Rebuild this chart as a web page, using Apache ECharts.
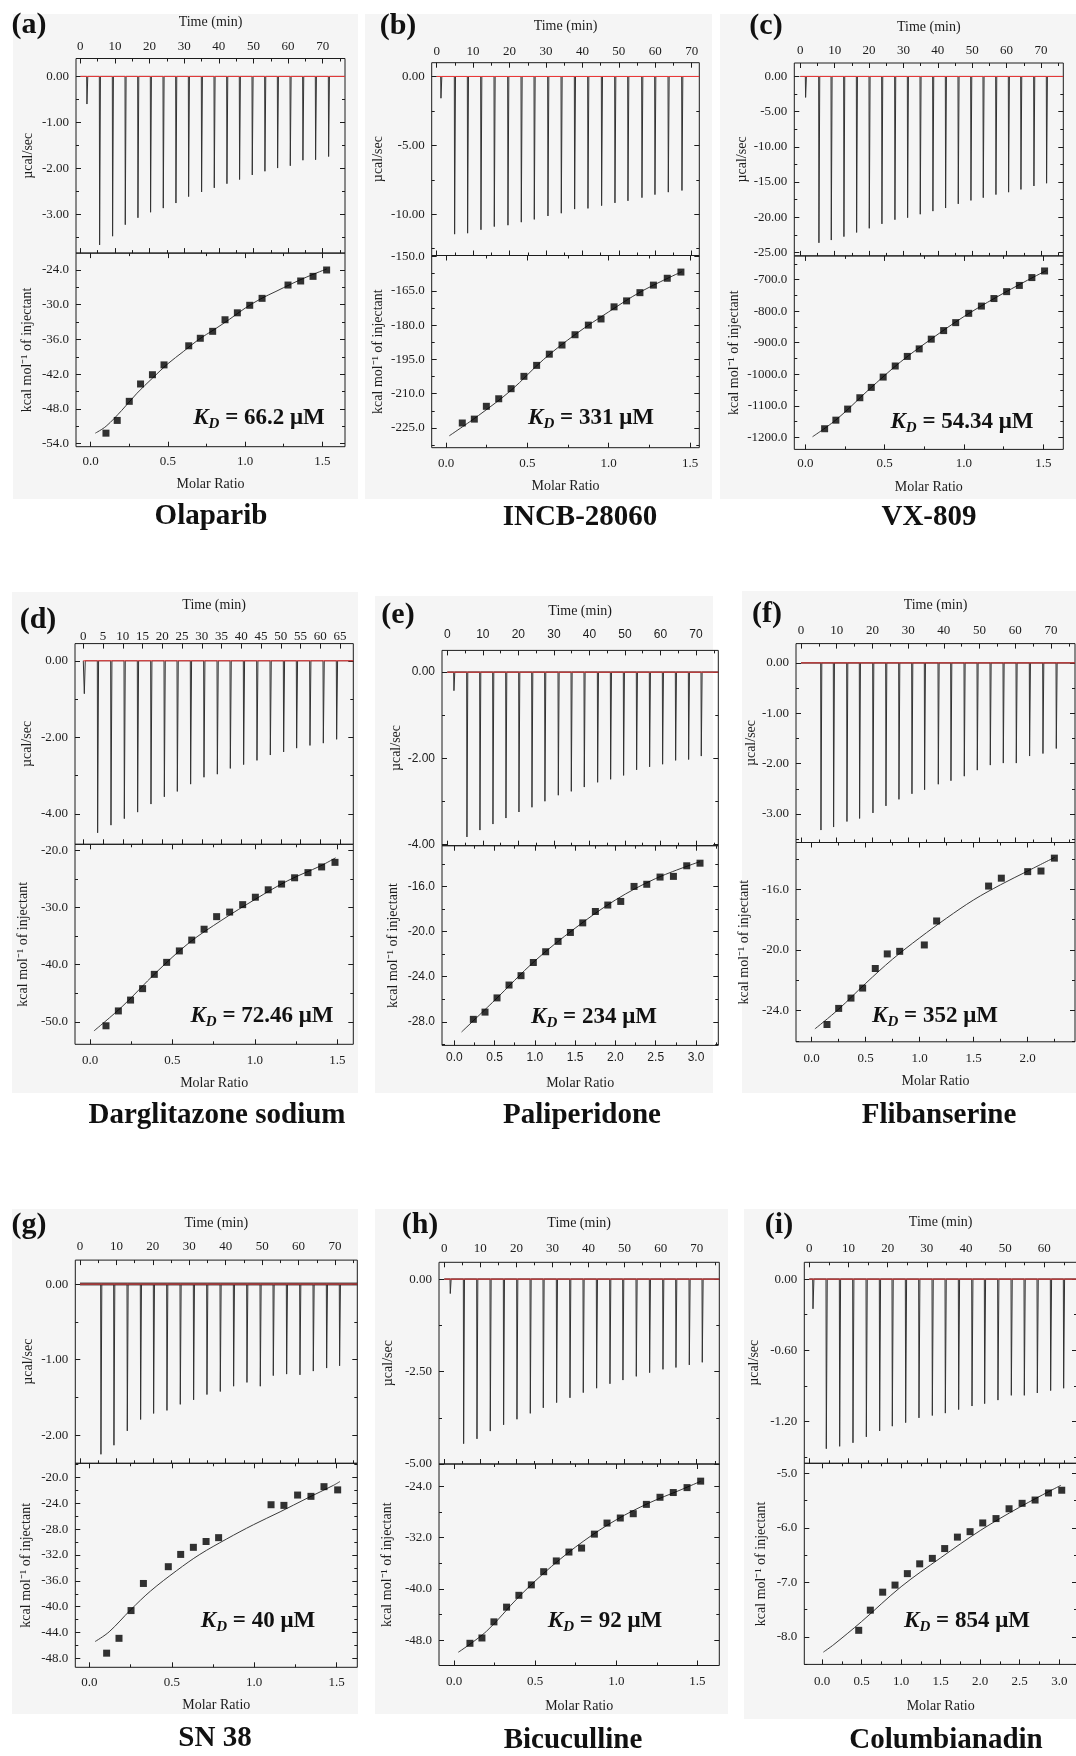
<!DOCTYPE html>
<html><head><meta charset="utf-8">
<script src="https://cdn.jsdelivr.net/npm/echarts@6/dist/echarts.min.js"></script>
<style>html,body{margin:0;padding:0;background:#fff}#c{width:1076px;height:1756px}</style>
</head><body><div id="c"></div>
<script>
// ================= DATA =================
const panelLetters = ['(a)','(b)','(c)','(d)','(e)','(f)','(g)','(h)','(i)'];
const compoundNames = ['Olaparib','INCB-28060','VX-809','Darglitazone sodium','Paliperidone','Flibanserine','SN 38','Bicuculline','Columbianadin'];
const kdValues = ['66.2 μM','331 μM','54.34 μM','72.46 μM','234 μM','352 μM','40 μM','92 μM','854 μM'];

// tick label values
const timeTicks70 = [0,10,20,30,40,50,60,70];
const timeTicks65 = [0,5,10,15,20,25,30,35,40,45,50,55,60,65];
const timeTicks60 = [0,10,20,30,40,50,60];
const ratioTicks15 = [0,0.5,1.0,1.5];
const ratioTicks20 = [0,0.5,1.0,1.5,2.0];
const ratioTicks30 = [0,0.5,1.0,1.5,2.0,2.5,3.0];
const heatTicksA = [0,-1,-2,-3];
const heatTicksB = [0,-5,-10];
const heatTicksC = [0,-5,-10,-15,-20,-25];
const heatTicksD = [0,-2,-4];
const heatTicksE = [0,-2,-4];
const heatTicksF = [0,-1,-2,-3];
const heatTicksG = [0,-1,-2];
const heatTicksH = [0,-2.5,-5];
const heatTicksI = [0,-0.6,-1.2];
const enthTicksA = [-24,-30,-36,-42,-48,-54];
const enthTicksB = [-150,-165,-180,-195,-210,-225];
const enthTicksC = [-700,-800,-900,-1000,-1100,-1200];
const enthTicksD = [-20,-30,-40,-50];
const enthTicksE = [-16,-20,-24,-28];
const enthTicksF = [-16,-20,-24];
const enthTicksG = [-20,-24,-28,-32,-36,-40,-44,-48];
const enthTicksH = [-24,-32,-40,-48];
const enthTicksI = [-5,-6,-7,-8];

// (a) Olaparib
const timeA = [1.84,5.50,9.25,12.91,16.57,20.22,23.88,27.54,31.20,34.95,38.61,42.27,45.92,49.58,53.24,56.90,60.56,64.21,67.87,71.63];
const heatA = [-0.6,-3.66,-3.47,-3.22,-3.07,-2.95,-2.86,-2.75,-2.61,-2.51,-2.42,-2.33,-2.24,-2.14,-2.06,-1.99,-1.94,-1.82,-1.81,-1.74];
const ratioA = [0.099,0.172,0.25,0.323,0.40,0.475,0.635,0.71,0.79,0.87,0.95,1.03,1.11,1.278,1.36,1.44,1.528];
const enthA = [-52.2,-50.0,-46.7,-43.7,-42.1,-40.4,-37.1,-35.8,-34.6,-32.6,-31.4,-30.1,-28.9,-26.6,-25.9,-25.1,-24.0];
const fitRatioA = [0.03,0.1,0.2,0.3,0.4,0.5,0.6,0.7,0.8,0.9,1.0,1.1,1.2,1.3,1.4,1.53];
const fitEnthA = [-52.2,-51.0,-48.3,-45.3,-42.7,-40.2,-38.1,-36.0,-34.3,-32.5,-30.6,-29.0,-27.7,-26.4,-25.2,-23.8];

// (b) INCB-28060
const timeB = [1.09,4.84,8.41,12.07,15.73,19.48,23.14,26.71,30.46,34.12,37.78,41.44,45.19,48.85,52.42,56.26,59.83,63.49,67.24];
const heatB = [-1.58,-11.45,-11.38,-11.13,-10.9,-10.8,-10.58,-10.38,-10.13,-9.93,-9.63,-9.58,-9.38,-9.18,-9.03,-8.8,-8.58,-8.4,-8.28];
const ratioB = [0.10,0.174,0.248,0.324,0.40,0.479,0.557,0.635,0.713,0.793,0.875,0.953,1.033,1.11,1.192,1.275,1.36,1.444];
const enthB = [-222.8,-221.1,-215.5,-212.2,-207.8,-202.4,-197.6,-192.7,-188.7,-184.2,-180.0,-177.3,-172.0,-169.4,-165.8,-162.5,-159.5,-156.8];
const fitRatioB = [0.02,0.2,0.4,0.6,0.8,1.0,1.2,1.45];
const fitEnthB = [-228.4,-219.5,-208.5,-195.0,-183.8,-174.2,-165.3,-156.6];

// (c) VX-809
const timeC = [1.46,5.34,8.93,12.61,16.30,19.98,23.66,27.44,31.13,34.81,38.49,42.18,45.86,49.55,53.13,56.82,60.50,64.09,67.87,71.55];
const heatC = [-2.98,-23.63,-23.24,-22.75,-22.16,-21.57,-20.94,-20.35,-20.06,-19.57,-19.13,-18.69,-18.10,-17.61,-17.22,-16.78,-16.44,-16.05,-15.56,-15.17];
const ratioC = [0.122,0.193,0.267,0.344,0.416,0.491,0.567,0.643,0.718,0.794,0.872,0.948,1.03,1.11,1.189,1.269,1.349,1.428,1.508];
const enthC = [-1172.7,-1145.5,-1110.4,-1074.4,-1041.6,-1008.9,-973.8,-943.4,-919.5,-888.7,-861.5,-836.3,-806.8,-783.8,-759.9,-738.0,-718.3,-693.4,-672.5];
const fitRatioC = [0.046,0.2,0.4,0.6,0.8,1.0,1.2,1.4,1.52];
const fitEnthC = [-1198,-1142,-1049,-961,-886,-817,-757,-702,-671];

// (d) Darglitazone sodium
const timeD = [0.18,3.55,6.93,10.31,13.68,17.06,20.44,23.73,27.10,30.48,33.86,37.15,40.52,43.90,47.28,50.65,53.94,57.32,60.70,64.07];
const heatD = [-0.86,-4.49,-4.29,-4.12,-3.95,-3.74,-3.55,-3.41,-3.22,-3.04,-2.96,-2.81,-2.71,-2.60,-2.46,-2.38,-2.28,-2.21,-2.15,-2.05];
const ratioD = [0.097,0.172,0.246,0.319,0.39,0.465,0.542,0.617,0.692,0.768,0.847,0.926,1.003,1.081,1.162,1.241,1.322,1.405,1.486];
const enthD = [-50.7,-48.1,-46.2,-44.2,-41.7,-39.6,-37.6,-35.7,-33.8,-31.6,-30.8,-29.5,-28.2,-26.9,-25.9,-24.8,-23.9,-22.9,-22.1];
const fitRatioD = [0.024,0.2,0.4,0.6,0.8,1.0,1.2,1.4,1.49];
const fitEnthD = [-51.6,-47.2,-41.4,-36.2,-32.2,-28.6,-25.3,-22.7,-21.3];

// (e) Paliperidone
const timeE = [1.79,5.45,9.11,12.77,16.43,20.09,23.75,27.40,31.16,34.82,38.47,42.23,45.89,49.54,53.20,56.86,60.52,64.18,67.84,71.40];
const heatE = [-0.43,-3.83,-3.67,-3.53,-3.39,-3.25,-3.14,-3.00,-2.86,-2.77,-2.67,-2.56,-2.49,-2.40,-2.27,-2.20,-2.14,-2.05,-2.03,-1.95];
const ratioE = [0.236,0.381,0.53,0.679,0.828,0.981,1.134,1.288,1.441,1.594,1.751,1.905,2.066,2.231,2.389,2.554,2.72,2.885,3.05];
const enthE = [-27.78,-27.14,-25.88,-24.74,-23.91,-22.74,-21.79,-20.87,-20.08,-19.23,-18.22,-17.65,-17.33,-16.0,-15.81,-15.17,-15.11,-14.17,-13.94];
const fitRatioE = [0.09,0.5,1.0,1.5,2.0,2.5,3.05];
const fitEnthE = [-28.9,-26.1,-22.6,-19.7,-17.2,-15.3,-13.8];

// (f) Flibanserine
const timeF = [5.51,9.05,12.79,16.33,20.07,23.71,27.35,30.99,34.53,38.36,41.91,45.64,49.28,52.92,56.56,60.20,63.93,67.67,71.40];
const heatF = [-3.32,-3.26,-3.15,-3.09,-2.98,-2.84,-2.71,-2.60,-2.52,-2.41,-2.34,-2.25,-2.13,-2.03,-1.99,-1.99,-1.85,-1.80,-1.70];
const ratioF = [0.142,0.25,0.364,0.472,0.589,0.70,0.815,1.043,1.157,1.638,1.756,2.0,2.123,2.247];
const enthF = [-24.91,-23.85,-23.17,-22.51,-21.22,-20.26,-20.09,-19.67,-18.09,-15.79,-15.27,-14.84,-14.8,-13.95];
const fitRatioF = [0.03,0.25,0.5,0.75,1.0,1.25,1.5,1.75,2.0,2.25];
const fitEnthF = [-25.2,-23.9,-22.2,-20.6,-19.2,-17.9,-16.7,-15.7,-14.8,-13.9];

// (g) SN 38
const timeG = [5.67,9.24,12.90,16.56,20.13,23.79,27.45,31.11,34.77,38.43,42.09,45.75,49.41,52.98,56.64,60.30,63.96,67.62,71.18];
const heatG = [-2.25,-2.13,-1.94,-1.79,-1.71,-1.67,-1.59,-1.53,-1.46,-1.42,-1.35,-1.30,-1.35,-1.21,-1.19,-1.20,-1.15,-1.11,-1.08];
const ratioG = [0.105,0.18,0.253,0.328,0.479,0.554,0.631,0.708,0.784,1.102,1.18,1.263,1.344,1.423,1.506];
const enthG = [-47.2,-44.9,-40.6,-36.4,-33.8,-31.9,-30.8,-29.9,-29.3,-24.2,-24.3,-22.7,-22.9,-21.4,-21.9];
const fitRatioG = [0.035,0.12,0.25,0.37,0.53,0.67,0.833,0.995,1.157,1.32,1.48,1.52];
const fitEnthG = [-45.4,-43.9,-40.5,-37.6,-34.4,-31.9,-29.5,-27.3,-25.3,-23.2,-21.2,-20.6];

// (h) Bicuculline
const timeH = [1.58,5.28,8.98,12.67,16.37,20.07,23.77,27.37,31.07,34.77,38.46,42.16,45.86,49.46,53.16,56.86,60.56,64.16,67.86,71.46];
const heatH = [-0.39,-4.45,-4.32,-4.11,-3.94,-3.79,-3.63,-3.48,-3.34,-3.21,-3.07,-2.95,-2.83,-2.73,-2.63,-2.53,-2.44,-2.39,-2.32,-2.25];
const ratioH = [0.097,0.171,0.245,0.323,0.399,0.476,0.552,0.63,0.708,0.786,0.865,0.943,1.025,1.105,1.186,1.27,1.352,1.437,1.521];
const enthH = [-48.5,-47.67,-45.15,-42.85,-41.0,-39.37,-37.31,-35.63,-34.24,-33.62,-31.44,-29.71,-28.92,-28.25,-26.79,-25.68,-24.94,-24.17,-23.16];
const fitRatioH = [0.025,0.2,0.4,0.6,0.8,1.0,1.2,1.4,1.52];
const fitEnthH = [-49.9,-46.6,-41.2,-36.5,-32.5,-29.2,-26.6,-24.5,-23.2];

// (i) Columbianadin
const timeI = [0.86,4.26,7.67,11.07,14.48,17.88,21.11,24.52,27.92,31.33,34.65,38.05,41.46,44.69,48.09,51.50,54.82,58.14,61.54,64.86];
const heatI = [-0.25,-1.43,-1.41,-1.38,-1.33,-1.28,-1.24,-1.21,-1.17,-1.15,-1.13,-1.10,-1.07,-1.05,-1.02,-0.98,-0.98,-0.96,-0.94,-0.92];
const ratioI = [0.464,0.611,0.767,0.923,1.079,1.235,1.395,1.551,1.712,1.872,2.032,2.2,2.365,2.53,2.694,2.863,3.031];
const enthI = [-7.88,-7.51,-7.18,-7.05,-6.84,-6.66,-6.56,-6.38,-6.17,-6.07,-5.91,-5.83,-5.65,-5.55,-5.49,-5.36,-5.31];
const fitRatioI = [0.017,0.15,0.5,1.0,1.5,2.0,2.5,3.02];
const fitEnthI = [-8.28,-8.14,-7.72,-7.08,-6.55,-6.05,-5.62,-5.22];

// ================= ASSEMBLY =================
const PANELS = [
  {time:timeA, heat:heatA, ratio:ratioA, enth:enthA, fitX:fitRatioA, fitY:fitEnthA, tT:timeTicks70, hT:heatTicksA, eT:enthTicksA, rT:ratioTicks15},
  {time:timeB, heat:heatB, ratio:ratioB, enth:enthB, fitX:fitRatioB, fitY:fitEnthB, tT:timeTicks70, hT:heatTicksB, eT:enthTicksB, rT:ratioTicks15},
  {time:timeC, heat:heatC, ratio:ratioC, enth:enthC, fitX:fitRatioC, fitY:fitEnthC, tT:timeTicks70, hT:heatTicksC, eT:enthTicksC, rT:ratioTicks15},
  {time:timeD, heat:heatD, ratio:ratioD, enth:enthD, fitX:fitRatioD, fitY:fitEnthD, tT:timeTicks65, hT:heatTicksD, eT:enthTicksD, rT:ratioTicks15},
  {time:timeE, heat:heatE, ratio:ratioE, enth:enthE, fitX:fitRatioE, fitY:fitEnthE, tT:timeTicks70, hT:heatTicksE, eT:enthTicksE, rT:ratioTicks30},
  {time:timeF, heat:heatF, ratio:ratioF, enth:enthF, fitX:fitRatioF, fitY:fitEnthF, tT:timeTicks70, hT:heatTicksF, eT:enthTicksF, rT:ratioTicks20},
  {time:timeG, heat:heatG, ratio:ratioG, enth:enthG, fitX:fitRatioG, fitY:fitEnthG, tT:timeTicks70, hT:heatTicksG, eT:enthTicksG, rT:ratioTicks15},
  {time:timeH, heat:heatH, ratio:ratioH, enth:enthH, fitX:fitRatioH, fitY:fitEnthH, tT:timeTicks70, hT:heatTicksH, eT:enthTicksH, rT:ratioTicks15},
  {time:timeI, heat:heatI, ratio:ratioI, enth:enthI, fitX:fitRatioI, fitY:fitEnthI, tT:timeTicks60, hT:heatTicksI, eT:enthTicksI, rT:ratioTicks30}
];

// layout (positions / axis ranges / gaps)
const LAYOUT = [
  {l:76, r:345, t:58.5, m:253.1, b:446.7, tr:[-1.24,76.44], hr:[-3.837,0.389], rr:[-0.095,1.647], er:[-54.54,-21.08], tng:29, tlm:5.5, rng:31, rlm:8, hng:41, eng:42, bg:[13,14,358,499], let:[29,25], nm:[211,517], kd:[259,418], noise:1},
  {l:431.7, r:699.3, t:62.7, m:255.5, b:447.7, tr:[-1.37,72.08], hr:[-13.0,1.0], rr:[-0.088,1.557], er:[-233.6,-149.55], tng:29, tlm:5, rng:31.5, rlm:9, hng:46, eng:46, bg:[365,14,712,499], let:[398,26], nm:[580,518], kd:[591,418], noise:1},
  {l:794.3, r:1063.3, t:63, m:255.9, b:449.4, tr:[-1.745,76.49], hr:[-25.49,1.91], rr:[-0.069,1.626], er:[-1238.2,-624.7], tng:28.5, tlm:5.5, rng:31, rlm:7.5, hng:43, eng:53, bg:[720,14,1076,499], let:[766,26], nm:[929,518], kd:[962,422], noise:1},
  {l:75, r:353.3, t:643.6, m:844.3, b:1044.3, tr:[-2.10,68.37], hr:[-4.79,0.448], rr:[-0.091,1.597], er:[-53.94,-18.94], tng:31.5, tlm:1, rng:32, rlm:9.5, hng:41, eng:45, bg:[12,592,358,1093], let:[38,620], nm:[217,1116], kd:[262,1016], noise:1, noTimeMinor:true},
  {l:442, r:718.3, t:650.4, m:845.7, b:1045.4, tr:[-1.49,76.27], hr:[-4.033,0.506], rr:[-0.153,3.277], er:[-30.09,-12.39], tng:32, tlm:9.5, rng:30.5, rlm:6.5, hng:37, eng:42, bg:[375,596,713,1093], let:[398,615], nm:[582,1116], kd:[594,1017], noise:1.4, sans:true},
  {l:796, r:1075, t:643.6, m:842.5, b:1041.8, tr:[-1.4,76.72], hr:[-3.567,0.383], rr:[-0.145,2.438], er:[-26.05,-12.92], tng:31, tlm:7, rng:33, rlm:10, hng:35, eng:45, bg:[742,591,1076,1093], let:[767,614], nm:[939,1116], kd:[935,1016], noise:1.4},
  {l:75.3, r:357.3, t:1260.1, m:1463.3, b:1667.3, tr:[-1.29,76.12], hr:[-2.369,0.317], rr:[-0.085,1.625], er:[-49.39,-17.78], tng:30, tlm:6.7, rng:31.5, rlm:8.5, hng:40, eng:42, bg:[12,1209,358,1714], let:[29,1225], nm:[215,1739], kd:[258,1621], noise:3},
  {l:439, r:719.3, t:1262.3, m:1464, b:1665.5, tr:[-1.47,76.26], hr:[-5.0,0.455], rr:[-0.094,1.636], er:[-51.97,-20.48], tng:31.5, tlm:7, rng:34, rlm:10, hng:44, eng:45, bg:[375,1209,728,1714], let:[420,1225], nm:[573,1741], kd:[605,1621], noise:1.2},
  {l:804.3, r:1077, t:1262.3, m:1463.3, b:1664.4, tr:[-1.28,68.35], hr:[-1.553,0.142], rr:[-0.224,3.224], er:[-8.505,-4.816], tng:32.5, tlm:7, rng:35, rlm:11, hng:43, eng:36, bg:[744,1209,1076,1719], let:[779,1225], nm:[946,1741], kd:[967,1621], noise:1.3}
];

const SERIF = '"Liberation Serif","Times New Roman",serif';
const SANS = '"Liberation Sans",Arial,sans-serif';
const INK = '#1c1c1c';

const grids = [], xAxes = [], yAxes = [], series = [], graphics = [];

function minorsOf(majors, min, max) {
  const s = Math.abs(majors[1] - majors[0]);
  const lo = Math.min(...majors), hi = Math.max(...majors);
  const out = [];
  for (let v = lo - s / 2; v <= hi + s / 2 + 1e-9; v += s) {
    if (v >= min && v <= max) out.push(+v.toFixed(6));
  }
  return out;
}

function addAxes(list, gi, range, majors, withMinor, mainPos, mirrorPos, digits, margin, family, size, nameCfg) {
  const base = {type: 'value', gridIndex: gi, min: range[0], max: range[1],
    axisLine: {show: false, onZero: false}, splitLine: {show: false}, splitArea: {show: false}};
  const tick = (vals, len) => ({show: true, inside: true, length: len, customValues: vals, lineStyle: {color: INK, width: 1}});
  const idx = list.length;
  list.push(Object.assign({}, base, {position: mainPos, axisTick: tick(majors, 5),
    axisLabel: {show: true, customValues: majors, formatter: v => (+v).toFixed(digits), margin: margin,
      fontFamily: family, fontSize: size, color: INK}}, nameCfg));
  list.push(Object.assign({}, base, {position: mirrorPos, axisTick: tick(majors, 5), axisLabel: {show: false}}));
  if (withMinor) {
    const mn = minorsOf(majors, range[0], range[1]);
    list.push(Object.assign({}, base, {position: mainPos, axisTick: tick(mn, 3), axisLabel: {show: false}}));
    list.push(Object.assign({}, base, {position: mirrorPos, axisTick: tick(mn, 3), axisLabel: {show: false}}));
  }
  return idx;
}

function spikeLine(times, heats, t0, t1) {
  const pts = [[t0, 0]];
  times.forEach((t, i) => { pts.push([t, 0], [t + 0.08, heats[i]], [t + 0.32, 0]); });
  pts.push([t1, 0]);
  return pts;
}

PANELS.forEach((p, k) => {
  const L = LAYOUT[k];
  const fam = L.sans ? SANS : SERIF;
  const fsz = L.sans ? 12 : 13;
  const gTop = grids.length;
  grids.push({left: L.l, top: L.t, width: L.r - L.l, height: L.m - L.t, show: true, borderColor: INK, borderWidth: 1, backgroundColor: 'transparent', containLabel: false, outerBoundsMode: 'none'});
  grids.push({left: L.l, top: L.m, width: L.r - L.l, height: L.b - L.m, show: true, borderColor: INK, borderWidth: 1, backgroundColor: 'transparent', containLabel: false, outerBoundsMode: 'none'});
  const nameStyle = {fontFamily: SERIF, fontSize: 14, color: INK};

  const tx = addAxes(xAxes, gTop, L.tr, p.tT, !L.noTimeMinor, 'top', 'bottom', 0, L.tlm, fam, fsz,
    {name: 'Time (min)', nameLocation: 'middle', nameGap: L.tng, nameTextStyle: nameStyle});
  const hy = addAxes(yAxes, gTop, L.hr, p.hT, true, 'left', 'right', 2, 7, fam, fsz,
    {name: 'µcal/sec', nameLocation: 'middle', nameGap: L.hng, nameRotate: 90, nameTextStyle: nameStyle});
  const rx = addAxes(xAxes, gTop + 1, L.rr, p.rT, true, 'bottom', 'top', 1, L.rlm, fam, fsz,
    {name: 'Molar Ratio', nameLocation: 'middle', nameGap: L.rng, nameTextStyle: nameStyle});
  const ey = addAxes(yAxes, gTop + 1, L.er, p.eT, true, 'left', 'right', 1, 7, fam, fsz,
    {name: 'kcal mol⁻¹ of injectant', nameLocation: 'middle', nameGap: L.eng, nameRotate: 90, nameTextStyle: nameStyle});

  const t0 = p.tT[0], t1 = L.tr[1];
  // raw thermogram
  series.push({type: 'line', xAxisIndex: tx, yAxisIndex: hy, data: spikeLine(p.time, p.heat, t0, t1),
    showSymbol: false, symbol: 'none', lineStyle: {color: '#333333', width: 1}, z: 2, silent: true});
  if (L.noise > 1) {
    series.push({type: 'line', xAxisIndex: tx, yAxisIndex: hy, data: [[t0, 0], [t1, 0]],
      showSymbol: false, symbol: 'none', lineStyle: {color: '#2b2b2b', width: L.noise, opacity: 0.8}, z: 3, silent: true});
  }
  // baseline (red)
  series.push({type: 'line', xAxisIndex: tx, yAxisIndex: hy, data: [[t0, 0], [t1, 0]],
    showSymbol: false, symbol: 'none', lineStyle: {color: '#f03a3a', width: 1}, z: 4, silent: true});
  // fit curve
  series.push({type: 'line', xAxisIndex: rx, yAxisIndex: ey, data: p.fitX.map((x, i) => [x, p.fitY[i]]),
    smooth: 0.35, showSymbol: false, symbol: 'none', lineStyle: {color: '#3a3a3a', width: 1}, z: 3, silent: true});
  // integrated heats
  series.push({type: 'scatter', xAxisIndex: rx, yAxisIndex: ey, data: p.ratio.map((x, i) => [x, p.enth[i]]),
    symbol: 'rect', symbolSize: 7, itemStyle: {color: '#000'}, z: 5, silent: true});

  // background panel
  graphics.push({type: 'rect', shape: {x: L.bg[0], y: L.bg[1], width: L.bg[2] - L.bg[0], height: L.bg[3] - L.bg[1]},
    style: {fill: '#f5f5f5'}, z: -10, silent: true});
  // letter
  graphics.push({type: 'text', x: L.let[0], y: L.let[1], z: 50, silent: true,
    style: {text: panelLetters[k], fontFamily: SERIF, fontSize: 30, fontWeight: 'bold', fill: '#111', align: 'center', verticalAlign: 'middle'}});
  // compound name
  graphics.push({type: 'text', x: L.nm[0], y: L.nm[1], z: 50, silent: true,
    style: {text: compoundNames[k], fontFamily: SERIF, fontSize: 29, fontWeight: 'bold', fill: '#111', align: 'center', verticalAlign: 'middle'}});
  // KD
  graphics.push({type: 'text', x: L.kd[0], y: L.kd[1], z: 50, silent: true,
    style: {text: '{k|K}{d|D}{t| = ' + kdValues[k] + '}', align: 'center', verticalAlign: 'middle', fill: '#111',
      rich: {
        k: {fontFamily: SERIF, fontSize: 23, fontWeight: 'bold', fontStyle: 'italic', lineHeight: 28, fill: '#111'},
        d: {fontFamily: SERIF, fontSize: 15, fontWeight: 'bold', fontStyle: 'italic', lineHeight: 15, verticalAlign: 'bottom', fill: '#111'},
        t: {fontFamily: SERIF, fontSize: 23, fontWeight: 'bold', lineHeight: 28, fill: '#111'}
      }}});
});

const chart = echarts.init(document.getElementById('c'), null, {renderer: 'canvas', width: 1076, height: 1756});
chart.setOption({
  backgroundColor: '#ffffff',
  animation: false,
  grid: grids,
  xAxis: xAxes,
  yAxis: yAxes,
  series: series,
  graphic: {elements: graphics}
});
</script>
</body></html>
